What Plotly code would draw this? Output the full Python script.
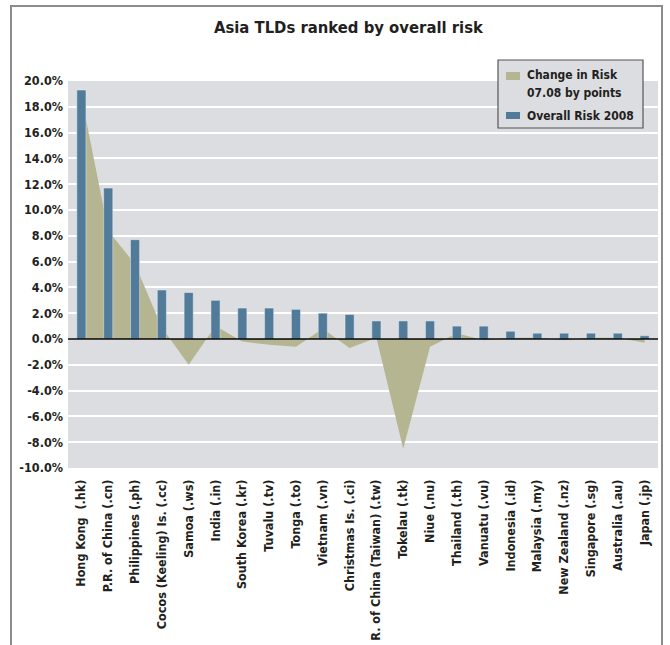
import plotly.graph_objects as go

# Asia TLDs ranked by overall risk
paises = [
    "Hong Kong  (.hk)", "P.R. of China (.cn)", "Philippines (.ph)", "Cocos (Keeling) Is. (.cc)",
    "Samoa (.ws)", "India (.in)", "South Korea (.kr)", "Tuvalu (.tv)", "Tonga (.to)",
    "Vietnam (.vn)", "Christmas Is. (.ci)", "R. of China (Taiwan) (.tw)", "Tokelau (.tk)",
    "Niue (.nu)", "Thailand (.th)", "Vanuatu (.vu)", "Indonesia (.id)", "Malaysia (.my)",
    "New Zealand (.nz)", "Singapore (.sg)", "Australia (.au)", "Japan (.jp)"
]

# Overall Risk 2008 (%)
riesgo_2008 = [19.3, 11.7, 7.7, 3.8, 3.6, 3.0, 2.4, 2.4, 2.3, 2.0, 1.9,
               1.4, 1.4, 1.4, 1.0, 1.0, 0.6, 0.45, 0.45, 0.45, 0.45, 0.25]

# Change in Risk 07.08 by points
cambio = [18.8, 8.4, 5.8, 0.9, -2.0, 1.0, -0.2, -0.45, -0.6, 0.8, -0.7,
          0.1, -8.5, -0.6, 0.45, -0.1, 0.1, 0.1, -0.1, 0.1, 0.1, -0.3]

y_ticks = list(range(-10, 21, 2))
y_labels = [f"{v:.1f}%" for v in y_ticks]

leyenda = ["Change in Risk", "07.08 by points", "Overall Risk 2008"]

FONT = "DejaVu Sans Condensed, DejaVu Sans, sans-serif"
AZUL = "#517b98"
CAQUI = "#b6b591"
FONDO = "#dcdde0"
TEXTO = "#231f20"

# plot area in pixels: x 68..658, y 81..468
def px(x):
    return (x - 68) / 590

def py(y):
    return (468 - y) / 387

fig = go.Figure()

# area (below the bars)
fig.add_trace(go.Scatter(
    x=paises, y=cambio, mode="lines", fill="tozeroy",
    line=dict(width=0, color=CAQUI), fillcolor=CAQUI,
    name="Change in Risk 07.08 by points", xaxis="x", yaxis="y"
))

# bars on overlay axes so they are drawn above the area
fig.add_trace(go.Bar(
    x=paises, y=riesgo_2008, marker_color=AZUL, width=0.34,
    name="Overall Risk 2008", xaxis="x2", yaxis="y2"
))

rango_x = [-0.5, len(paises) - 0.5]

fig.update_layout(
    width=670, height=645, autosize=False,
    margin=dict(l=68, r=12, t=81, b=177, autoexpand=False),
    paper_bgcolor="white", plot_bgcolor=FONDO,
    font=dict(family=FONT, color=TEXTO),
    title=dict(text="<b>Asia TLDs ranked by overall risk</b>",
               x=0.52, xanchor="center", y=0.958, yanchor="middle",
               font=dict(size=16.5, family=FONT, color=TEXTO)),
    showlegend=False,
    xaxis=dict(type="category", range=rango_x, showgrid=False, zeroline=False,
               tickangle=-90, tickfont=dict(size=12.5, family=FONT, weight="bold"),
               ticks="", ticklabelstandoff=8),
    xaxis2=dict(type="category", range=rango_x, overlaying="x", showgrid=False,
                zeroline=False, showticklabels=False, ticks=""),
    yaxis=dict(range=[-10, 20], tickvals=y_ticks, ticktext=y_labels,
               showgrid=True, gridcolor="white", gridwidth=1.5, zeroline=False,
               tickfont=dict(size=12.5, family=FONT, weight="bold"), ticks="",
               ticklabelstandoff=4),
    yaxis2=dict(range=[-10, 20], overlaying="y", showgrid=False, zeroline=False,
                showticklabels=False, ticks=""),
)

# zero line on top
fig.add_hline(y=0, line=dict(color="black", width=1.5), layer="above")

# outer frame
fig.add_shape(type="rect", xref="paper", yref="paper",
              x0=px(11), x1=px(662), y0=py(720), y1=py(6),
              line=dict(color="#8c8c8c", width=2), layer="below")

# legend box, drawn by hand
fig.add_shape(type="rect", xref="paper", yref="paper",
              x0=px(498), x1=px(643), y0=py(128), y1=py(60),
              fillcolor=FONDO, line=dict(color="#555555", width=1.2), layer="above")
fig.add_shape(type="rect", xref="paper", yref="paper",
              x0=px(506), x1=px(520), y0=py(80), y1=py(72),
              fillcolor=CAQUI, line=dict(width=0), layer="above")
fig.add_shape(type="rect", xref="paper", yref="paper",
              x0=px(506), x1=px(520), y0=py(119), y1=py(112),
              fillcolor=AZUL, line=dict(width=0), layer="above")
for texto, y in zip(leyenda, [75.5, 92.5, 115.5]):
    fig.add_annotation(text=f"<b>{texto}</b>", xref="paper", yref="paper",
                       x=px(525), y=py(y), xanchor="left", yanchor="middle",
                       showarrow=False, font=dict(size=12, family=FONT, color=TEXTO))

fig.write_html("out.html", config={"displayModeBar": False},
               post_script="document.body.style.margin = '0';")
